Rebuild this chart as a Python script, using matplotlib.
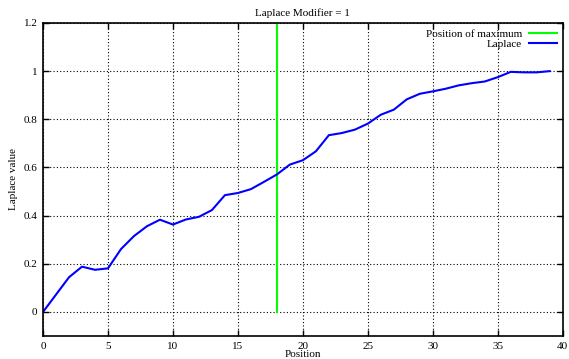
import numpy as np
import matplotlib
matplotlib.use("Agg")
import matplotlib.pyplot as plt
from matplotlib.ticker import FormatStrFormatter

# data
position = list(range(40))
laplace = [0.0, 0.072, 0.144, 0.188, 0.175, 0.181, 0.261, 0.315, 0.356, 0.383,
           0.363, 0.384, 0.395, 0.423, 0.485, 0.494, 0.51, 0.54, 0.571, 0.612,
           0.63, 0.667, 0.734, 0.743, 0.757, 0.782, 0.819, 0.84, 0.883, 0.906,
           0.916, 0.927, 0.941, 0.95, 0.957, 0.975, 0.997, 0.995, 0.995, 1.0]
max_pos = 18
max_line_y = [0, 1.2]

plt.rcParams['font.family'] = ['Liberation Serif', 'DejaVu Serif']
plt.rcParams['font.size'] = 8

fig = plt.figure(figsize=(5.69, 3.59), dpi=100)
ax = fig.add_axes([0.0756, 0.064, 0.9134, 0.872])

ax.plot([max_pos, max_pos], max_line_y, color='#00ff00', lw=1.5, label='Position of maximum')
ax.plot(position, laplace, color='#0000ff', lw=1.5, label='Laplace')

ax.set_xlim(0, 40)
ax.set_ylim(-0.1, 1.2)
ax.set_xticks(np.arange(0, 41, 5))
ax.set_yticks(np.arange(0, 1.21, 0.2))
ax.yaxis.set_major_formatter(FormatStrFormatter('%g'))
ax.tick_params(direction='in', top=True, right=True, length=4, width=1, pad=4)
ax.grid(True, color='black', linestyle=(0, (1, 2)), lw=0.8)
for s in ax.spines.values():
    s.set_linewidth(1.2)

ax.set_title('Laplace Modifier = 1', fontsize=8, pad=5)
ax.set_xlabel('Position', labelpad=-0.5)
ax.set_ylabel('Laplace value', labelpad=4)

ax.legend(loc='upper right', frameon=False, markerfirst=False, handlelength=2.5,
          borderaxespad=0.15, labelspacing=0.0, handletextpad=0.6)

fig.savefig('out.png', dpi=100)
